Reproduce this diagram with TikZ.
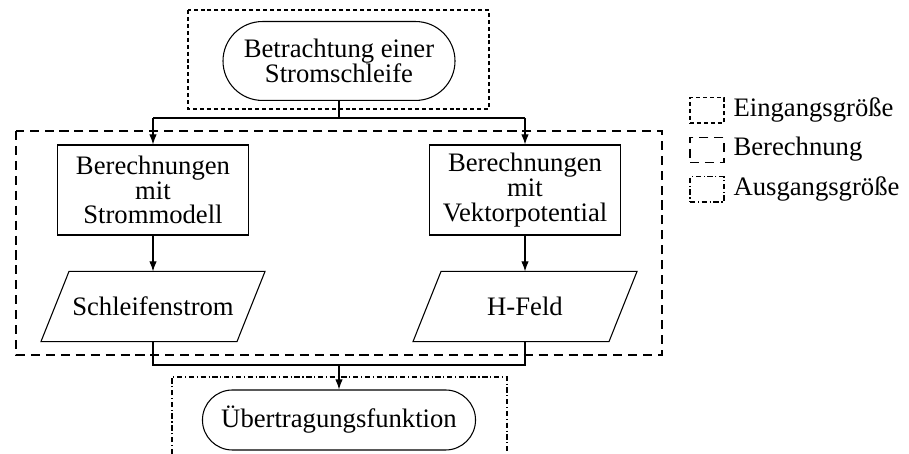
\documentclass[tikz,border=0pt]{standalone}
\usepackage{fontspec}
\setmainfont{Liberation Serif}
\usetikzlibrary{shapes.misc,arrows.meta}
\begin{document}
\begin{tikzpicture}[x=0.375pt,y=-0.375pt, line width=0.4pt,
  txt/.style={font=\fontsize{10}{9.3}\selectfont, align=center},
  term/.style={rounded rectangle, draw, txt, inner sep=0pt},
  proc/.style={rectangle, draw, txt, inner sep=0pt, minimum width=71.6pt, minimum height=33.75pt},
  iobox/.style={rectangle, txt, inner sep=0pt, minimum width=73.1pt, minimum height=25.9pt},
  arr/.style={-{Latex[length=3.8pt,width=2.8pt]}},
  ingrp/.style={dash pattern=on 1.5pt off 1.1pt},
  calcgrp/.style={dash pattern=on 3.4pt off 2.2pt},
  outgrp/.style={dash pattern=on 2pt off 1pt on 0.4pt off 1pt},
  legbox/.style={draw, minimum width=12.75pt, minimum height=9.4pt, inner sep=0pt},
  legtxt/.style={font=\fontsize{10}{12}\selectfont, anchor=base west, inner sep=0pt}]
\useasboundingbox (0,0) rectangle (909,454);

% group frames
\draw[ingrp] (188,10) rectangle (489,109);
\draw[calcgrp] (16,131) rectangle (662,355);
\draw[outgrp] (172,454) -- (172,377) -- (507,377) -- (507,454);

% nodes
\node[term, minimum width=87pt, minimum height=29.6pt] (start) at (339,61) {Betrachtung einer\\Stromschleife};
\node[proc] (calcA) at (153,190) {Berechnungen\\mit\\Strommodell};
\node[proc] (calcB) at (525,190) {Berechnungen\\mit\\Vektorpotential};
\node[iobox] (outA) at (153,306.5) {Schleifenstrom};
\node[iobox] (outB) at (525,306.5) {H-Feld};
\node[term, minimum width=102.4pt, minimum height=22.5pt] (result) at (339,420) {Übertragungsfunktion};

% parallelogram outlines
\foreach \n in {outA,outB}{
  \draw ([xshift=-5.25pt]\n.south west) -- ([xshift=5.25pt]\n.north west)
     -- ([xshift=5.25pt]\n.north east) -- ([xshift=-5.25pt]\n.south east) -- cycle;
}

% connectors
\coordinate (splitY) at (0,118);
\coordinate (joinY) at (0,365);
\draw (start.south) -- (start.south |- splitY);
\draw (calcA.north |- splitY) -- (calcB.north |- splitY);
\draw[arr] (calcA.north |- splitY) -- (calcA.north);
\draw[arr] (calcB.north |- splitY) -- (calcB.north);
\draw[arr] (calcA.south) -- (outA.north);
\draw[arr] (calcB.south) -- (outB.north);
\draw (outA.south) -- (outA.south |- joinY) -- (outB.south |- joinY) -- (outB.south);
\draw[arr] (result.north |- joinY) -- (result.north);

% legend
\node[legbox, ingrp] (legIn) at (707,110.5) {};
\node[legbox, calcgrp] (legCalc) at (707,150) {};
\node[legbox, outgrp] (legOut) at (707,189.5) {};
\node[legtxt] (legInTxt) at (733,116.5) {Eingangsgröße};
\node[legtxt] (legCalcTxt) at (733,156) {Berechnung};
\node[legtxt] (legOutTxt) at (733,195.5) {Ausgangsgröße};
\end{tikzpicture}
\end{document}
